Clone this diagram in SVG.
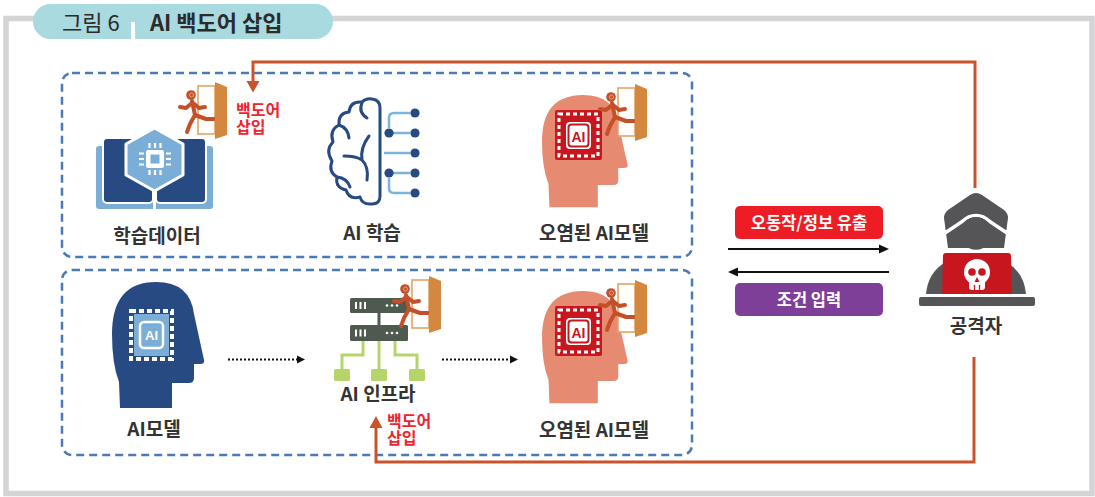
<svg xmlns="http://www.w3.org/2000/svg" width="1095" height="497" viewBox="0 0 1095 497">
<defs>
<style>
.lbl{font-family:"Noto Sans CJK KR","Noto Sans",sans-serif;font-size:19px;font-weight:700;fill:#333;text-anchor:middle}
.bd{font-family:"Noto Sans CJK KR","Noto Sans",sans-serif;font-size:16px;font-weight:700;fill:#ee2431}
.tag{font-family:"Noto Sans CJK KR","Noto Sans",sans-serif;font-size:16.5px;font-weight:700;fill:#fff;text-anchor:middle}
.ttl{font-family:"Noto Sans CJK KR","Noto Sans",sans-serif;font-size:22px;fill:#2b2b2b}
.box{fill:none;stroke:#4b7bb7;stroke-width:2.5;stroke-dasharray:8 5}
.bk{fill:none;stroke:#c9532b;stroke-width:3}
.dot{fill:none;stroke:#111;stroke-width:2;stroke-dasharray:2 2}
.ln{fill:none;stroke:#111;stroke-width:2}
.run{fill:none;stroke:#c4502a;stroke-width:4;stroke-linecap:round;stroke-linejoin:round}
</style>
<!-- open door with a running figure; origin = top-left of the door frame -->
<g id="door-runner">
  <rect x="0" y="0" width="17" height="48" fill="#fff" stroke="#e3a465" stroke-width="1.6"/>
  <g class="run">
    <path d="M-6,15 L-3,29"/>
    <path d="M-6,17 L-12,22 L-18,21"/>
    <path d="M-5,17 L1,22 L7,21"/>
    <path d="M-3,29 L8,33 L16,33"/>
    <path d="M-3,29 L-8,38 L-11,46"/>
  </g>
  <circle cx="-7" cy="9" r="4.8" fill="#c4502a"/>
  <circle cx="-6.5" cy="9" r="2" fill="none" stroke="#eaa07f" stroke-width="1"/>
  <polygon points="17,-4 29,1 29,49 17,53" fill="#d3873f"/>
</g>
<!-- head silhouette facing right, 93 x 126 box -->
<path id="head" d="M8,126 L7,100 Q0,82 0,52 Q0,0 44,0 Q78,0 82,32 L92,78 Q93,82 88,82 L82,82 L82,96 Q82,101 77,101 L60,101 L60,126 Z"/>
<!-- red AI chip, 47 x 50 -->
<g id="chip-red">
  <rect width="47" height="50" rx="2" fill="#c8161e"/>
  <rect x="4" y="4" width="39" height="42" fill="none" stroke="#fff" stroke-width="3" stroke-dasharray="4 3"/>
  <rect x="11" y="12" width="25" height="27" rx="4" fill="#fff"/>
  <rect x="13.5" y="14.5" width="20" height="22" rx="3" fill="none" stroke="#c8161e" stroke-width="2"/>
  <text x="23.5" y="31.5" text-anchor="middle" font-family="Liberation Sans,Arial,sans-serif" font-weight="700" font-size="14" fill="#c8161e">AI</text>
</g>
</defs>

<!-- outer frame -->
<rect x="6" y="18.5" width="1086" height="475" fill="#fff" stroke="#d4d4d6" stroke-width="5.5"/>

<!-- caption pill -->
<g id="caption">
  <rect x="33" y="4" width="300" height="35" rx="17.5" fill="#a8dadf"/>
  <rect x="131" y="22" width="4" height="18" fill="#fff"/>
  <text class="ttl" x="62" y="31">그림 6</text>
  <text class="ttl" x="150" y="31" font-weight="700">AI 백도어 삽입</text>
</g>

<!-- dashed group boxes -->
<rect class="box" x="62" y="73" width="630" height="184" rx="10"/>
<rect class="box" x="62" y="270" width="630" height="185" rx="10"/>

<!-- training data -->
<g id="training-data">
  <rect x="96" y="146" width="117" height="63" rx="3" fill="#7aaed6"/>
  <rect x="103" y="138" width="50" height="65" rx="4" fill="#284a82" stroke="#fff" stroke-width="2"/>
  <rect x="156" y="138" width="50" height="65" rx="4" fill="#284a82" stroke="#fff" stroke-width="2"/>
  <path d="M154.5,188 V209" stroke="#fff" stroke-width="3"/>
  <polygon points="154.5,128 183,144 183,175 154.5,191 126,175 126,144" fill="#7aaed6" stroke="#fff" stroke-width="3" stroke-linejoin="round"/>
  <rect x="146" y="150" width="18" height="18" rx="2" fill="#fff"/>
  <rect x="150.5" y="154.5" width="9" height="9" fill="#7aaed6"/>
  <path d="M149.5,148 V143 M155,148 V143 M160.5,148 V143 M149.5,170 V175 M155,170 V175 M160.5,170 V175 M144,153.5 H139 M144,159 H139 M144,164.5 H139 M166,153.5 H171 M166,159 H171 M166,164.5 H171" stroke="#fff" stroke-width="2.2"/>
  <use href="#door-runner" x="198" y="86"/>
  <text class="bd" x="236" y="116"><tspan x="236">백도어</tspan><tspan x="236" dy="17">삽입</tspan></text>
  <text class="lbl" x="157" y="243">학습데이터</text>
</g>

<!-- AI training -->
<g id="ai-training">
  <g fill="none" stroke="#284a82" stroke-width="3" stroke-linecap="round" stroke-linejoin="round">
    <path d="M380,108 V196 Q380,204 372,204 Q362,205 360,197 Q349,200 346,190 Q335,188 337,177 Q328,172 332,161 Q325,150 333,142 Q329,130 339,125 Q338,113 349,112 Q350,101 362,102 Q366,98 372,99 Q380,100 380,108 Z"/>
    <path d="M362,103 Q358,112 367,118"/>
    <path d="M339,125 Q348,128 349,138"/>
    <path d="M369,136 Q360,148 362,160 M344,156 Q356,156 362,160 Q369,167 367,180"/>
    <path d="M337,177 Q347,178 350,187"/>
  </g>
  <g fill="none" stroke="#7ab4dc" stroke-width="2.5">
    <path d="M389,128 V118 Q389,113 394,113 H410"/>
    <path d="M389,133 H410"/>
    <path d="M384,153 H410"/>
    <path d="M389,173 H410"/>
    <path d="M389,178 V188 Q389,193 394,193 H410"/>
  </g>
  <g fill="#284a82">
    <circle cx="415" cy="113" r="4.6"/><circle cx="389" cy="133" r="4.6"/><circle cx="415" cy="133" r="4.6"/>
    <circle cx="415" cy="153" r="4.6"/><circle cx="389" cy="173" r="4.6"/><circle cx="415" cy="173" r="4.6"/>
    <circle cx="415" cy="193" r="4.6"/>
  </g>
  <text class="lbl" x="372" y="240">AI 학습</text>
</g>

<!-- poisoned model (top) -->
<g id="poisoned-model-top">
  <use href="#head" transform="translate(542,95) scale(0.93,0.89)" fill="#e68a72"/>
  <use href="#chip-red" x="555" y="110"/>
  <use href="#door-runner" x="618" y="88"/>
  <text class="lbl" x="594" y="240">오염된 AI모델</text>
</g>

<!-- clean AI model -->
<g id="ai-model">
  <use href="#head" transform="translate(112,282)" fill="#284a82"/>
  <rect x="131" y="311" width="41" height="48" fill="none" stroke="#fff" stroke-width="4" stroke-dasharray="5 3"/>
  <rect x="134" y="314" width="35" height="42" fill="#7aaed6"/>
  <rect x="140" y="322" width="23" height="26" rx="4" fill="#7aaed6" stroke="#fff" stroke-width="2.5"/>
  <text x="151.5" y="340" text-anchor="middle" font-family="Liberation Sans,Arial,sans-serif" font-weight="700" font-size="13" fill="#fff">AI</text>
  <text class="lbl" x="154" y="436">AI모델</text>
</g>

<!-- AI infrastructure -->
<g id="ai-infra">
  <g fill="none" stroke="#b5d56a" stroke-width="3">
    <path d="M363,340 V355 H342 V370"/>
    <path d="M379,340 V370"/>
    <path d="M395,340 V355 H417 V370"/>
  </g>
  <g fill="#b5d56a">
    <rect x="334" y="369" width="16" height="12" rx="1.5"/>
    <rect x="371" y="369" width="16" height="12" rx="1.5"/>
    <rect x="409" y="369" width="16" height="12" rx="1.5"/>
  </g>
  <path d="M379,312 V326" stroke="#4e5a4e" stroke-width="3"/>
  <rect x="350" y="298" width="58" height="15" rx="1.5" fill="#4e5a4e"/>
  <rect x="350" y="325" width="58" height="16" rx="1.5" fill="#4e5a4e"/>
  <path d="M356,302 V309 M360.5,302 V309 M365,302 V309 M356,329.5 V336.5 M360.5,329.5 V336.5 M365,329.5 V336.5" stroke="#fff" stroke-width="2"/>
  <g fill="#fff">
    <circle cx="387" cy="305.5" r="1.3"/><circle cx="392" cy="305.5" r="1.3"/><circle cx="397" cy="305.5" r="1.3"/>
    <circle cx="387" cy="333" r="1.3"/><circle cx="392" cy="333" r="1.3"/><circle cx="397" cy="333" r="1.3"/>
  </g>
  <use href="#door-runner" x="412" y="280"/>
  <text class="lbl" x="378" y="401">AI 인프라</text>
  <text class="bd" x="387" y="427"><tspan x="387">백도어</tspan><tspan x="387" dy="17">삽입</tspan></text>
</g>

<!-- poisoned model (bottom) -->
<g id="poisoned-model-bottom">
  <use href="#head" transform="translate(542,291) scale(0.93,0.89)" fill="#e68a72"/>
  <use href="#chip-red" x="555" y="306"/>
  <use href="#door-runner" x="618" y="284"/>
  <text class="lbl" x="594" y="437">오염된 AI모델</text>
</g>

<!-- attacker -->
<g id="attacker">
  <path d="M926,294 Q928,272 946,262 L1006,262 Q1024,272 1026,294 Z" fill="#555558"/>
  <path d="M976,193 Q979,193 982,195 L1004,210 Q1008,213 1008,218 L1004,248 L948,248 L944,218 Q944,213 948,210 L970,195 Q973,193 976,193 Z" fill="#555558"/>
  <path d="M945,233 L963,221 A18,18 0 0 1 989,221 L1007,233" fill="none" stroke="#fff" stroke-width="3.5"/>
  <circle cx="976" cy="233.4" r="16.3" fill="#555558"/>
  <path d="M946,253 H1008 Q1011,253 1011,256 L1012,294 H942 L943,256 Q943,253 946,253 Z" fill="#c8161e"/>
  <circle cx="977" cy="272" r="13" fill="#fff"/>
  <rect x="969" y="279" width="16" height="11" rx="3" fill="#fff"/>
  <circle cx="972" cy="272" r="3.8" fill="#c8161e"/>
  <circle cx="982" cy="272" r="3.8" fill="#c8161e"/>
  <polygon points="977,277 974.5,282 979.5,282" fill="#c8161e"/>
  <path d="M974.5,285 V290 M979.5,285 V290" stroke="#c8161e" stroke-width="1.3"/>
  <rect x="919" y="297" width="116" height="9" rx="2" fill="#555558"/>
  <text class="lbl" x="976" y="333">공격자</text>
</g>

<!-- result / trigger tags -->
<g id="tags">
  <rect x="735" y="206" width="148" height="33" rx="5" fill="#ee1c25"/>
  <text class="tag" x="809" y="228.5">오동작/정보 유출</text>
  <rect x="735" y="283" width="148" height="33" rx="5" fill="#7d3f98"/>
  <text class="tag" x="809" y="305.5">조건 입력</text>
</g>

<!-- connectors -->
<g id="connectors">
  <path class="bk" d="M975,188 V62 H253 V82"/>
  <polygon points="246.5,81 259.5,81 253,92.5" fill="#c9532b"/>
  <path class="bk" d="M974,357 V462 H376 V427"/>
  <polygon points="369.5,428 382.5,428 376,416" fill="#c9532b"/>
  <path class="ln" d="M728,249 H880"/>
  <polygon points="879,244.5 889,249 879,253.5" fill="#111"/>
  <path class="ln" d="M738,272 H889"/>
  <polygon points="738,267.5 728,272 738,276.5" fill="#111"/>
  <path class="dot" d="M228,359.5 H297"/>
  <polygon points="297,355.5 305,359.5 297,363.5" fill="#111"/>
  <path class="dot" d="M442,359.5 H510"/>
  <polygon points="510,355.5 518,359.5 510,363.5" fill="#111"/>
</g>
</svg>
